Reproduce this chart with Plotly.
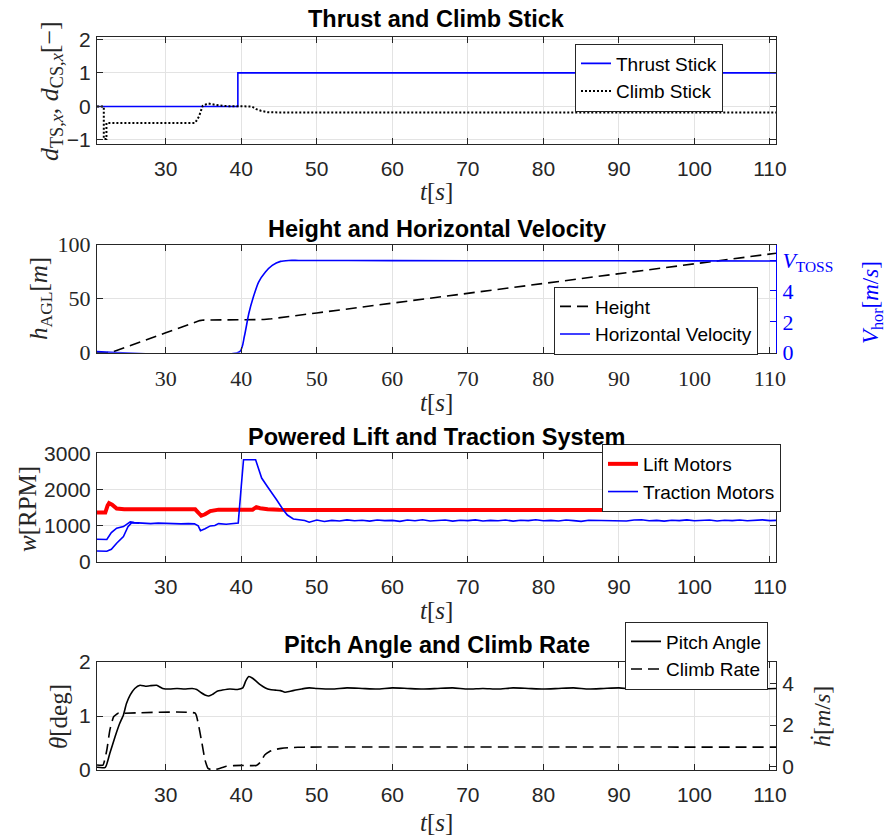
import plotly.graph_objects as go

# ---------------- data ----------------
T_START, T_END = 20.9, 110.8

# Thrust and climb stick deflections [-]
thrust_t = [20.9, 39.55, 39.55, 110.8]
thrust_v = [0, 0, 1, 1]
climb_stick_t = [20.9, 21.8, 21.8, 22.15, 22.15, 33.9, 34.4, 34.9, 35.6, 36.5, 38.0,
                 41.4, 42.0, 42.6, 43.5, 45.0, 110.8]
climb_stick_v = [0, 0, -0.97, -0.97, -0.49, -0.49, -0.30, 0.02, 0.09, 0.05, 0.01,
                 0.0, -0.08, -0.13, -0.17, -0.18, -0.18]

# Height above ground [m]
height_t = [20.9, 22.2, 23.0, 24.0, 26.0, 28.0, 30.0, 32.0, 34.0, 34.5, 35.0, 36.0,
            40.0, 42.0, 43.0, 44.0, 45.0, 46.0, 47.0, 50.0, 60.0, 70.0, 80.0, 90.0,
            100.0, 110.8]
height_v = [0.0, 0.0, 0.8, 3.2, 8.3, 13.4, 18.5, 23.6, 28.7, 29.7, 30.2, 30.3,
            30.3, 30.4, 30.7, 31.4, 32.2, 33.1, 34.0, 36.8, 45.9, 55.0, 64.1, 73.2,
            82.3, 92.1]

# Horizontal velocity [m/s]
vhor_t = [20.9, 39.8, 40.4, 41.0, 41.6, 42.3, 43.2, 44.1, 45.2, 46.3, 47.6, 60.0,
          80.0, 100.0, 110.8]
vhor_v = [0.07, 0.07, 1.03, 2.54, 3.61, 4.58, 5.23, 5.66, 5.92, 5.98, 5.98, 5.97,
          5.96, 5.95, 5.94]
vhor_ticks = [0, 2, 4, 6]
vhor_ticktext = ["0", "2", "4", "<i>V</i><sub>TOSS</sub>"]

# Lift motors speed [RPM]
lift_t = [20.9, 22.0, 22.3, 22.5, 22.9, 23.5, 24.5, 26.0, 28.0, 30.0, 32.0, 33.9,
          34.3, 34.7, 35.2, 35.9, 37.0, 39.0, 40.0, 41.5, 42.0, 42.5, 43.5, 45.0,
          50.0, 60.0, 70.0, 80.0, 90.0, 100.0, 110.8]
lift_v = [1370, 1370, 1560, 1630, 1590, 1480, 1460, 1465, 1460, 1465, 1460, 1460,
          1380, 1280, 1320, 1410, 1450, 1450, 1445, 1450, 1520, 1490, 1460, 1445,
          1440, 1440, 1440, 1440, 1440, 1440, 1440]

# Traction motors speed [RPM]
trac_a_t = [20.9, 22.2, 22.8, 23.5, 24.4, 25.3, 25.8, 26.5, 27.0, 28.0, 29.0, 30.0,
            31.0, 32.0, 33.0, 33.8, 34.3, 34.6, 35.2, 35.9, 36.5, 37.0, 38.0, 39.0,
            39.6, 40.0, 40.3, 41.9, 42.3, 42.7, 43.5, 44.2, 44.7, 45.5, 46.1, 46.9,
            47.8, 48.4, 49.0, 49.5,
            50, 51, 52, 53, 54, 55, 56, 57, 58, 59, 60, 61, 62, 63, 64, 65, 66, 67,
            68, 69, 70, 71, 72, 73, 74, 75, 76, 77, 78, 79, 80, 81, 82, 83, 84, 85,
            86, 87, 88, 89, 90, 91, 92, 93, 94, 95, 96, 97, 98, 99, 100, 101, 102,
            103, 104, 105, 106, 107, 108, 109, 110, 110.8]
trac_a_v = [625, 620, 810, 933, 978, 1110, 1090, 1075, 1080, 1060, 1075, 1065,
            1070, 1055, 1060, 1055, 1000, 866, 920, 997, 1010, 1060, 1045, 1060,
            1080, 2100, 2840, 2840, 2600, 2330, 2080, 1880, 1720, 1460, 1300, 1190,
            1165, 1150, 1100, 1130,
            1160, 1120, 1150, 1135, 1165, 1140, 1155, 1130, 1160, 1145, 1150, 1125,
            1160, 1140, 1170, 1135, 1150, 1160, 1130, 1155, 1145, 1165, 1135, 1150,
            1140, 1160, 1130, 1155, 1145, 1170, 1140, 1150, 1135, 1160, 1145, 1125,
            1155, 1150, 1165, 1140, 1150, 1135, 1160, 1170, 1140, 1150, 1130, 1155,
            1145, 1165, 1140, 1150, 1160, 1135, 1155, 1145, 1160, 1140, 1150, 1165,
            1145, 1150]
trac_b_t = [20.9, 22.2, 22.8, 23.5, 24.4, 25.0, 25.5, 26.5]
trac_b_v = [300, 290, 346, 514, 698, 978, 1090, 1075]

# Pitch angle [deg]
pitch_t = [20.9, 22.0, 22.6, 23.3, 23.9, 24.4, 24.8, 25.3, 25.9, 26.6, 27.3, 27.9,
           28.8, 29.6, 30.5, 31.5, 32.5, 33.5, 34.1, 34.7, 35.2, 35.7, 36.2, 36.8,
           37.5, 38.5, 39.5, 40.2, 40.6, 41.0, 41.5, 42.0, 42.5, 43.2, 43.8, 44.5,
           45.2, 45.8, 46.5, 47.2, 48.0, 49.0, 50.0, 52.0, 54.0, 56.0, 58.0, 60.0,
           62.0, 64.0, 66.0, 68.0, 70.0, 72.0, 74.0, 76.0, 78.0, 80.0, 82.0, 84.0,
           86.0, 88.0, 90.0, 92.0, 94.0, 96.0, 98.0, 100.0, 102.0, 104.0, 106.0,
           108.0, 110.8]
pitch_v = [0.05, 0.05, 0.31, 0.62, 0.86, 1.02, 1.23, 1.39, 1.51, 1.57, 1.55, 1.56,
           1.57, 1.51, 1.50, 1.51, 1.50, 1.51, 1.49, 1.43, 1.39, 1.37, 1.40, 1.46,
           1.48, 1.50, 1.49, 1.52, 1.65, 1.73, 1.70, 1.64, 1.58, 1.52, 1.49, 1.48,
           1.47, 1.44, 1.46, 1.48, 1.50, 1.52, 1.51, 1.50, 1.52, 1.51, 1.50, 1.52,
           1.51, 1.50, 1.51, 1.52, 1.50, 1.51, 1.50, 1.52, 1.51, 1.50, 1.51, 1.52,
           1.50, 1.51, 1.52, 1.50, 1.51, 1.50, 1.52, 1.51, 1.50, 1.52, 1.51, 1.50,
           1.51]

# Climb rate [m/s]
climb_t = [20.9, 21.7, 22.2, 22.6, 23.1, 23.7, 24.5, 33.9, 34.3, 34.8, 35.2, 35.6,
           36.2, 37.0, 38.0, 39.0, 40.0, 42.0, 42.5, 43.1, 43.7, 44.4, 45.3, 46.2,
           47.5, 49.0, 110.8]
climb_v = [0.08, 0.08, 0.80, 1.76, 2.40, 2.57, 2.57, 2.57, 2.08, 1.12, 0.32, -0.08,
           -0.16, -0.10, 0.02, 0.05, 0.06, 0.06, 0.20, 0.56, 0.72, 0.82, 0.88, 0.91,
           0.93, 0.94, 0.94]

x_ticks = [30, 40, 50, 60, 70, 80, 90, 100, 110]

# ---------------- figure ----------------
W, H = 887, 835
AX = "#262626"
GRID = "#e3e3e3"
SANS = "Liberation Sans"
SERIF = "Liberation Serif"
BLUE = "#0000ff"
RED = "#ff0000"

def px_x(p):
    return p / W

def px_y(p):
    return 1 - p / H

XDOM = [px_x(97), px_x(776)]
rows = {1: (36.7, 144.0), 2: (244.7, 352.7), 3: (453.3, 561.7), 4: (662.0, 770.0)}

fig = go.Figure()

# panel 1
fig.add_trace(go.Scatter(x=thrust_t, y=thrust_v, mode="lines", name="Thrust Stick",
                         line=dict(color=BLUE, width=1.6), xaxis="x", yaxis="y",
                         legend="legend"))
fig.add_trace(go.Scatter(x=climb_stick_t, y=climb_stick_v, mode="lines", name="Climb Stick",
                         line=dict(color="black", width=2, dash="2px,2px"),
                         xaxis="x", yaxis="y", legend="legend"))
# panel 2
fig.add_trace(go.Scatter(x=height_t, y=height_v, mode="lines", name="Height",
                         line=dict(color="black", width=1.6, dash="11px,6px"),
                         xaxis="x2", yaxis="y2", legend="legend2"))
fig.add_trace(go.Scatter(x=vhor_t, y=vhor_v, mode="lines", name="Horizontal Velocity",
                         line=dict(color=BLUE, width=1.6, shape="spline", smoothing=0.6),
                         xaxis="x2", yaxis="y3", legend="legend2"))
# panel 3
fig.add_trace(go.Scatter(x=lift_t, y=lift_v, mode="lines", name="Lift Motors",
                         line=dict(color=RED, width=4),
                         xaxis="x3", yaxis="y4", legend="legend3"))
fig.add_trace(go.Scatter(x=trac_a_t, y=trac_a_v, mode="lines", name="Traction Motors",
                         line=dict(color=BLUE, width=1.6),
                         xaxis="x3", yaxis="y4", legend="legend3"))
fig.add_trace(go.Scatter(x=trac_b_t, y=trac_b_v, mode="lines", name="Traction Motors",
                         line=dict(color=BLUE, width=1.6), showlegend=False,
                         xaxis="x3", yaxis="y4", legend="legend3"))
# panel 4
fig.add_trace(go.Scatter(x=pitch_t, y=pitch_v, mode="lines", name="Pitch Angle",
                         line=dict(color="black", width=1.6, shape="spline", smoothing=0.5),
                         xaxis="x4", yaxis="y5", legend="legend4"))
fig.add_trace(go.Scatter(x=climb_t, y=climb_v, mode="lines", name="Climb Rate",
                         line=dict(color="black", width=1.6, dash="11px,6px",
                                   shape="spline", smoothing=0.4),
                         xaxis="x4", yaxis="y6", legend="legend4"))

tickfont_sans = dict(family=SANS, size=21, color=AX)
tickfont_serif = dict(family=SERIF, size=22, color=AX)

def xaxis(row, anchor, font):
    return dict(domain=XDOM, anchor=anchor, range=[T_START, T_END], tickvals=x_ticks,
                showline=True, linecolor=AX, linewidth=1, mirror="ticks",
                ticks="inside", ticklen=6, tickcolor=AX, showgrid=True,
                gridcolor=GRID, zeroline=False, tickfont=font, ticklabelstandoff=6,
                automargin=False)

def yaxis(row, anchor, rng, tickvals, font, mirror="ticks", grid=True, color=AX,
          side="left", overlaying=None, ticktext=None):
    top, bot = rows[row]
    d = dict(domain=[px_y(bot), px_y(top)], anchor=anchor, range=rng, tickvals=tickvals,
             showline=True, linecolor=color, linewidth=1, mirror=mirror,
             ticks="inside", ticklen=6, tickcolor=color, showgrid=grid,
             gridcolor=GRID, zeroline=False, tickfont=font, side=side,
             ticklabelstandoff=1, automargin=False)
    if ticktext is not None:
        d["ticktext"] = ticktext
    if overlaying:
        d["overlaying"] = overlaying
    return d

fig.update_layout(
    xaxis=xaxis(1, "y", tickfont_sans),
    xaxis2=xaxis(2, "y2", tickfont_serif),
    xaxis3=xaxis(3, "y4", tickfont_sans),
    xaxis4=xaxis(4, "y5", tickfont_sans),
    yaxis=yaxis(1, "x", [-1.12, 2.08], [-1, 0, 1, 2], tickfont_sans),
    yaxis2=yaxis(2, "x2", [0, 100], [0, 50, 100], tickfont_serif, mirror=False),
    yaxis3=yaxis(2, "x2", [0, 7], vhor_ticks,
                 dict(family=SERIF, size=22, color=BLUE), mirror=False, grid=False,
                 color=BLUE, side="right", overlaying="y2", ticktext=vhor_ticktext),
    yaxis4=yaxis(3, "x3", [0, 3020], [0, 1000, 2000, 3000], tickfont_sans),
    yaxis5=yaxis(4, "x4", [0, 2], [0, 1, 2], tickfont_sans, mirror=False),
    yaxis6=yaxis(4, "x4", [-0.16, 5.03], [0, 2, 4], tickfont_sans, mirror=False,
                 grid=False, side="right", overlaying="y5"),
)

def legend_box(left, top):
    return dict(x=px_x(left), y=px_y(top), xref="paper", yref="paper",
                xanchor="left", yanchor="top", bgcolor="white", bordercolor=AX,
                borderwidth=1, font=dict(family=SANS, size=19, color="black"),
                tracegroupgap=0)

fig.update_layout(
    width=W, height=H, margin=dict(l=0, r=0, t=0, b=0, autoexpand=False),
    paper_bgcolor="white", plot_bgcolor="white", showlegend=True,
    legend=legend_box(575, 43.5),
    legend2=legend_box(554, 286.5),
    legend3=legend_box(602, 444),
    legend4=legend_box(625, 621.5),
)

# titles
titles = [("Thrust and Climb Stick", 18.7), ("Height and Horizontal Velocity", 229.0),
          ("Powered Lift and Traction System", 436.7), ("Pitch Angle and Climb Rate", 645.0)]
ann = []
xc = px_x((97 + 776) / 2)
for text, yc in titles:
    ann.append(dict(text=f"<b>{text}</b>", x=xc, y=px_y(yc), xref="paper", yref="paper",
                    xanchor="center", yanchor="middle", showarrow=False,
                    font=dict(family=SANS, size=23.5, color="black")))

# x labels
for yc in [191, 402, 610, 822]:
    ann.append(dict(text="<i>t</i>[<i>s</i>]", x=xc, y=px_y(yc), xref="paper",
                    yref="paper", xanchor="center", yanchor="middle", showarrow=False,
                    font=dict(family=SERIF, size=25, color=AX)))

# y labels
ylabels = [
    ("<i>d</i><sub>TS,<i>x</i></sub>, <i>d</i><sub>CS,<i>x</i></sub>[−]", 51, 91, AX, 26),
    ("<i>h</i><sub>AGL</sub>[<i>m</i>]", 40, 299, AX, 25),
    ("<i>V</i><sub>hor</sub>[<i>m</i>/<i>s</i>]", 872, 303, BLUE, 23),
    ("<i>w</i>[RPM]", 27, 509, AX, 25),
    ("<i>θ</i>[deg]", 58, 717, AX, 25),
    ("<i>ḣ</i>[<i>m</i>/<i>s</i>]", 822, 717, AX, 24),
]
for text, xp, yp, col, size in ylabels:
    ann.append(dict(text=text, x=px_x(xp), y=px_y(yp), xref="paper", yref="paper",
                    xanchor="center", yanchor="middle", showarrow=False, textangle=-90,
                    font=dict(family=SERIF, size=size, color=col)))

fig.update_layout(annotations=ann)

fig.write_html("out.html")
